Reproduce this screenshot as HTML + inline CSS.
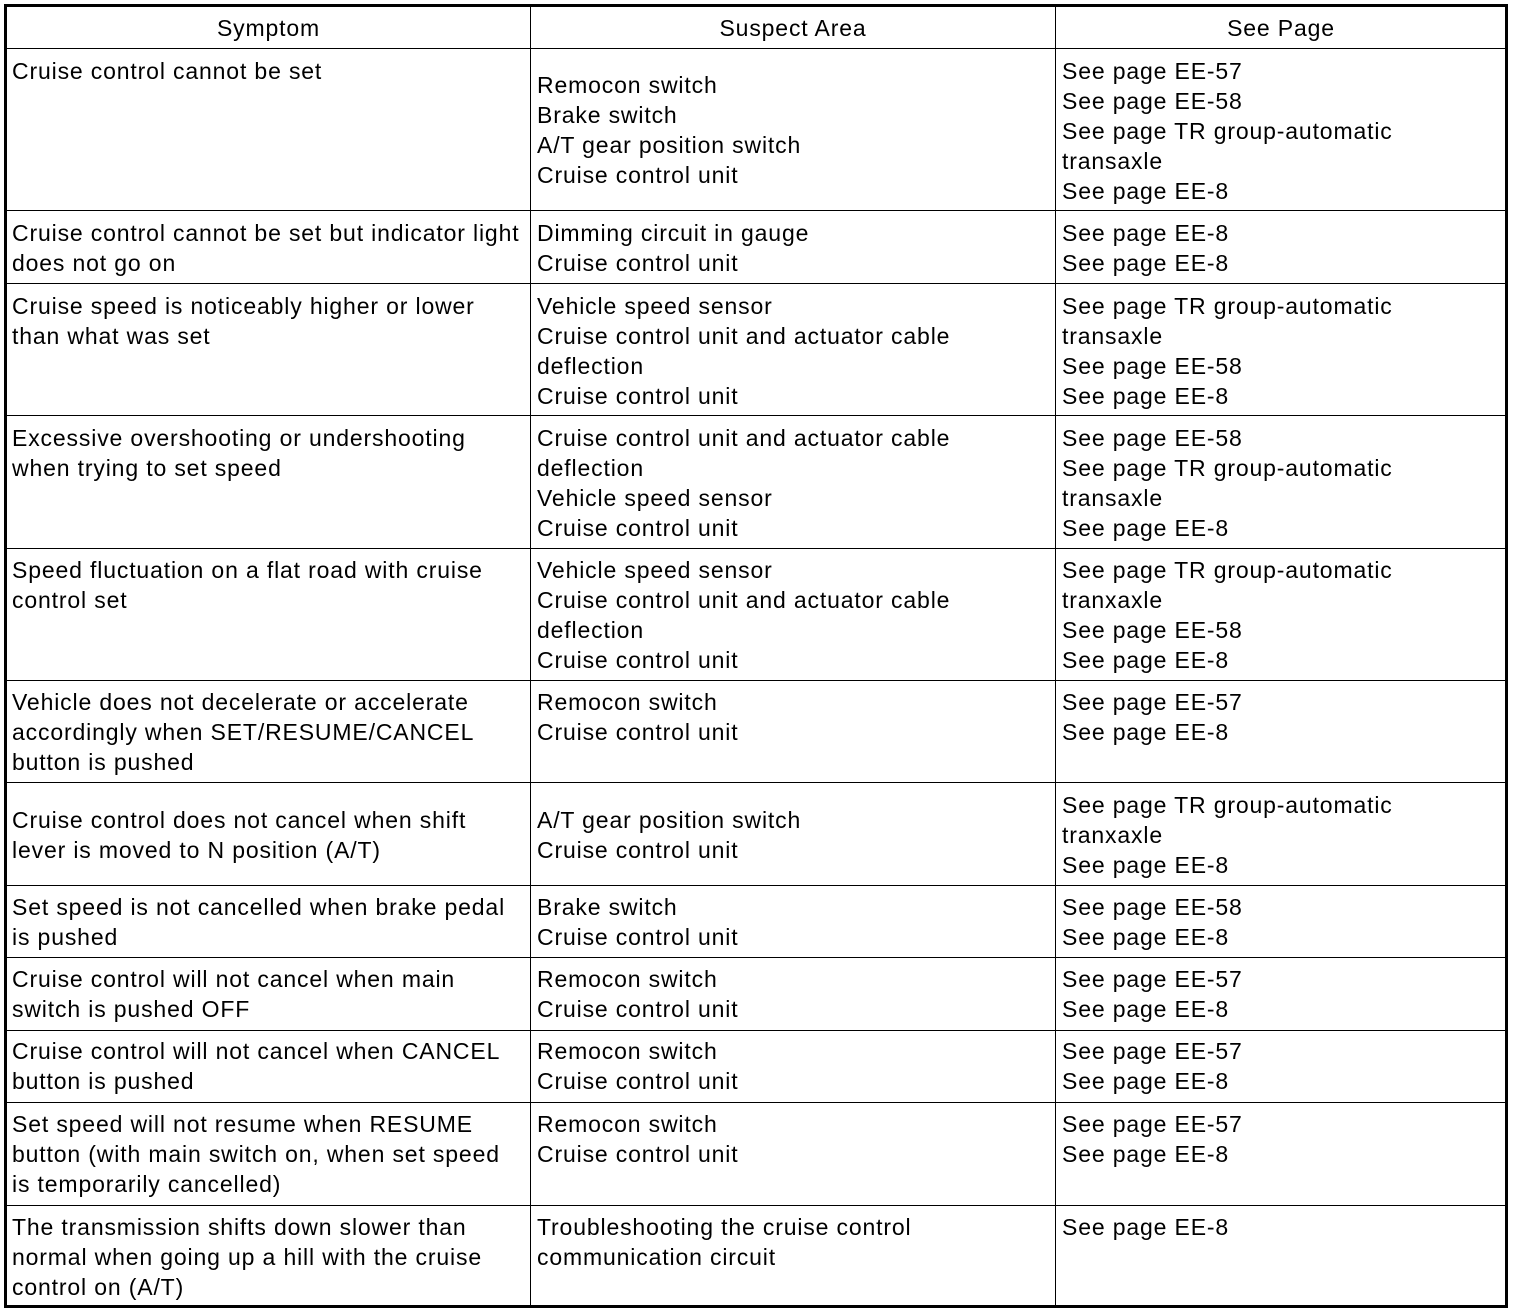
<!DOCTYPE html><html><head><style>
body{margin:0;width:1520px;height:1314px;background:#fff;position:relative;overflow:hidden;font-family:"Liberation Sans",Arial,sans-serif;font-size:23px;letter-spacing:0.85px;color:#000}
.h{position:absolute;left:5px;width:1502px;height:1px;background:#000}
.v{position:absolute;top:5px;height:1302px;width:1px;background:#000}
.t{position:absolute;line-height:30px;white-space:nowrap}
.hd{position:absolute;top:13px;line-height:30px;text-align:center}
</style></head><body>
<div style="position:absolute;left:4px;top:4px;width:1498px;height:1298px;border:3px solid #000"></div>
<div class="v" style="left:530px"></div><div class="v" style="left:1055px"></div>
<div class="h" style="top:48px"></div><div class="h" style="top:210px"></div><div class="h" style="top:283px"></div><div class="h" style="top:415px"></div><div class="h" style="top:548px"></div><div class="h" style="top:680px"></div><div class="h" style="top:782px"></div><div class="h" style="top:885px"></div><div class="h" style="top:957px"></div><div class="h" style="top:1030px"></div><div class="h" style="top:1102px"></div><div class="h" style="top:1205px"></div>
<div class="hd" style="left:7px;width:523px">Symptom</div>
<div class="hd" style="left:531px;width:524px">Suspect Area</div>
<div class="hd" style="left:1056px;width:450px">See Page</div>

<div class="t" style="left:12px;top:56px">Cruise control cannot be set</div>
<div class="t" style="left:537px;top:70px">Remocon switch<br>Brake switch<br>A/T gear position switch<br>Cruise control unit</div>
<div class="t" style="left:1062px;top:56px">See page EE-57<br>See page EE-58<br>See page TR group-automatic<br>transaxle<br>See page EE-8</div>

<div class="t" style="left:12px;top:218px">Cruise control cannot be set but indicator light<br>does not go on</div>
<div class="t" style="left:537px;top:218px">Dimming circuit in gauge<br>Cruise control unit</div>
<div class="t" style="left:1062px;top:218px">See page EE-8<br>See page EE-8</div>

<div class="t" style="left:12px;top:291px">Cruise speed is noticeably higher or lower<br>than what was set</div>
<div class="t" style="left:537px;top:291px">Vehicle speed sensor<br>Cruise control unit and actuator cable<br>deflection<br>Cruise control unit</div>
<div class="t" style="left:1062px;top:291px">See page TR group-automatic<br>transaxle<br>See page EE-58<br>See page EE-8</div>

<div class="t" style="left:12px;top:423px">Excessive overshooting or undershooting<br>when trying to set speed</div>
<div class="t" style="left:537px;top:423px">Cruise control unit and actuator cable<br>deflection<br>Vehicle speed sensor<br>Cruise control unit</div>
<div class="t" style="left:1062px;top:423px">See page EE-58<br>See page TR group-automatic<br>transaxle<br>See page EE-8</div>

<div class="t" style="left:12px;top:555px">Speed fluctuation on a flat road with cruise<br>control set</div>
<div class="t" style="left:537px;top:555px">Vehicle speed sensor<br>Cruise control unit and actuator cable<br>deflection<br>Cruise control unit</div>
<div class="t" style="left:1062px;top:555px">See page TR group-automatic<br>tranxaxle<br>See page EE-58<br>See page EE-8</div>

<div class="t" style="left:12px;top:687px">Vehicle does not decelerate or accelerate<br>accordingly when SET/RESUME/CANCEL<br>button is pushed</div>
<div class="t" style="left:537px;top:687px">Remocon switch<br>Cruise control unit</div>
<div class="t" style="left:1062px;top:687px">See page EE-57<br>See page EE-8</div>

<div class="t" style="left:12px;top:805px">Cruise control does not cancel when shift<br>lever is moved to N position (A/T)</div>
<div class="t" style="left:537px;top:805px">A/T gear position switch<br>Cruise control unit</div>
<div class="t" style="left:1062px;top:790px">See page TR group-automatic<br>tranxaxle<br>See page EE-8</div>

<div class="t" style="left:12px;top:892px">Set speed is not cancelled when brake pedal<br>is pushed</div>
<div class="t" style="left:537px;top:892px">Brake switch<br>Cruise control unit</div>
<div class="t" style="left:1062px;top:892px">See page EE-58<br>See page EE-8</div>

<div class="t" style="left:12px;top:964px">Cruise control will not cancel when main<br>switch is pushed OFF</div>
<div class="t" style="left:537px;top:964px">Remocon switch<br>Cruise control unit</div>
<div class="t" style="left:1062px;top:964px">See page EE-57<br>See page EE-8</div>

<div class="t" style="left:12px;top:1036px">Cruise control will not cancel when CANCEL<br>button is pushed</div>
<div class="t" style="left:537px;top:1036px">Remocon switch<br>Cruise control unit</div>
<div class="t" style="left:1062px;top:1036px">See page EE-57<br>See page EE-8</div>

<div class="t" style="left:12px;top:1109px">Set speed will not resume when RESUME<br>button (with main switch on, when set speed<br>is temporarily cancelled)</div>
<div class="t" style="left:537px;top:1109px">Remocon switch<br>Cruise control unit</div>
<div class="t" style="left:1062px;top:1109px">See page EE-57<br>See page EE-8</div>

<div class="t" style="left:12px;top:1212px">The transmission shifts down slower than<br>normal when going up a hill with the cruise<br>control on (A/T)</div>
<div class="t" style="left:537px;top:1212px">Troubleshooting the cruise control<br>communication circuit</div>
<div class="t" style="left:1062px;top:1212px">See page EE-8</div>
</body></html>
